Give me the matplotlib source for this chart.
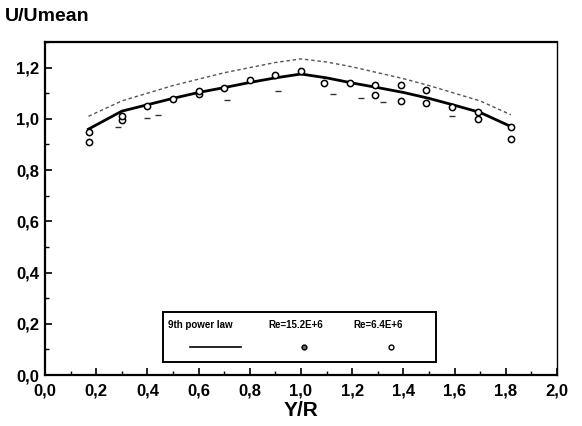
import matplotlib
matplotlib.use("Agg")
import matplotlib.pyplot as plt
from matplotlib.patches import Rectangle
from matplotlib.ticker import MultipleLocator, FuncFormatter

plt.rcParams["font.family"] = ["Liberation Sans", "DejaVu Sans"]

# ---- data ----
law_x = [0.17, 0.3, 0.4, 0.5, 0.6, 0.7, 0.8, 0.9, 1.0,
         1.1, 1.2, 1.3, 1.4, 1.5, 1.6, 1.7, 1.82]
law_y = [0.96, 1.03, 1.055, 1.08, 1.103, 1.122, 1.142, 1.16, 1.175,
         1.16, 1.14, 1.122, 1.103, 1.08, 1.053, 1.025, 0.97]

upper_y = [1.01, 1.07, 1.10, 1.13, 1.155, 1.18, 1.20, 1.22, 1.234,
           1.222, 1.203, 1.18, 1.157, 1.13, 1.10, 1.07, 1.016]

re15_x = [0.17, 0.3, 0.4, 0.5, 0.6, 0.7, 0.8, 0.9, 1.0,
          1.09, 1.19, 1.29, 1.39, 1.49, 1.59, 1.69, 1.82]
re15_y = [0.91, 0.996, 1.05, 1.078, 1.097, 1.12, 1.152, 1.17, 1.187,
          1.14, 1.14, 1.133, 1.07, 1.06, 1.047, 1.027, 0.92]

re64_x = [0.17, 0.3, 0.6, 1.29, 1.39, 1.49, 1.69, 1.82]
re64_y = [0.949, 1.01, 1.11, 1.094, 1.133, 1.113, 1.0, 0.969]

faint_x = [0.285, 0.398, 0.44, 0.71, 0.91, 1.125, 1.235, 1.32, 1.59]
faint_y = [0.969, 1.004, 1.016, 1.074, 1.11, 1.098, 1.082, 1.066, 1.012]

legend_labels = ["9th power law", "Re=15.2E+6", "Re=6.4E+6"]


def comma(v, pos):
    return f"{v:.1f}".replace(".", ",")


fig = plt.figure(figsize=(5.82, 4.26), dpi=100)
ax = fig.add_axes([0.0773, 0.1197, 0.8797, 0.7817])

ax.plot(law_x, upper_y, color="#555555", lw=1.0, ls=(0, (2.5, 2)))
ax.plot(law_x, law_y, color="black", lw=2.0)
ax.plot(faint_x, faint_y, ls="none", marker="_", ms=4, mew=1.0, color="#333333")
ax.plot(re15_x, re15_y, ls="none", marker="o", ms=4.5, mfc="white",
        mec="black", mew=1.1)
ax.plot(re64_x, re64_y, ls="none", marker="o", ms=4.5, mfc="white",
        mec="black", mew=1.1)

ax.set_xlim(0, 2.0)
ax.set_ylim(0, 1.3)
ax.xaxis.set_major_locator(MultipleLocator(0.2))
ax.xaxis.set_minor_locator(MultipleLocator(0.1))
ax.yaxis.set_major_locator(MultipleLocator(0.2))
ax.yaxis.set_minor_locator(MultipleLocator(0.1))
ax.xaxis.set_major_formatter(FuncFormatter(comma))
ax.yaxis.set_major_formatter(FuncFormatter(comma))
ax.tick_params(which="major", direction="in", length=5, width=1.2,
               labelsize=12, pad=4)
ax.tick_params(axis="x", which="major", pad=6)
ax.tick_params(which="minor", direction="in", length=3, width=1.0)
for lab in ax.get_xticklabels() + ax.get_yticklabels():
    lab.set_fontweight("bold")
for side in ("left", "bottom", "top"):
    ax.spines[side].set_linewidth(1.6)
ax.spines["right"].set_linewidth(1.0)
ax.spines["right"].set_linestyle((0, (5, 1)))

ax.set_xlabel("Y/R", fontsize=15, fontweight="bold", labelpad=2)
fig.text(0.008, 0.962, "U/Umean", fontsize=14, fontweight="bold",
         ha="left", va="center")

# hand-built legend: labels above their sample marks
ax.add_patch(Rectangle((0.23, 0.039), 0.534, 0.150, transform=ax.transAxes,
                       fill=False, lw=1.4, ec="black", zorder=5))
lab_x = [0.303, 0.49, 0.65]
for xx, t in zip(lab_x, legend_labels):
    ax.text(xx, 0.150, t, transform=ax.transAxes, fontsize=7,
            fontweight="bold", ha="center", va="center")
ax.plot([0.283, 0.383], [0.084, 0.084], transform=ax.transAxes,
        color="black", lw=1.2)
ax.plot([0.506], [0.084], transform=ax.transAxes, marker="o", ms=3.5,
        mfc="#666666", mec="black", mew=1.0)
ax.plot([0.676], [0.084], transform=ax.transAxes, marker="o", ms=3.5,
        mfc="white", mec="black", mew=1.0)

fig.savefig("out.png", dpi=100, facecolor="white")
